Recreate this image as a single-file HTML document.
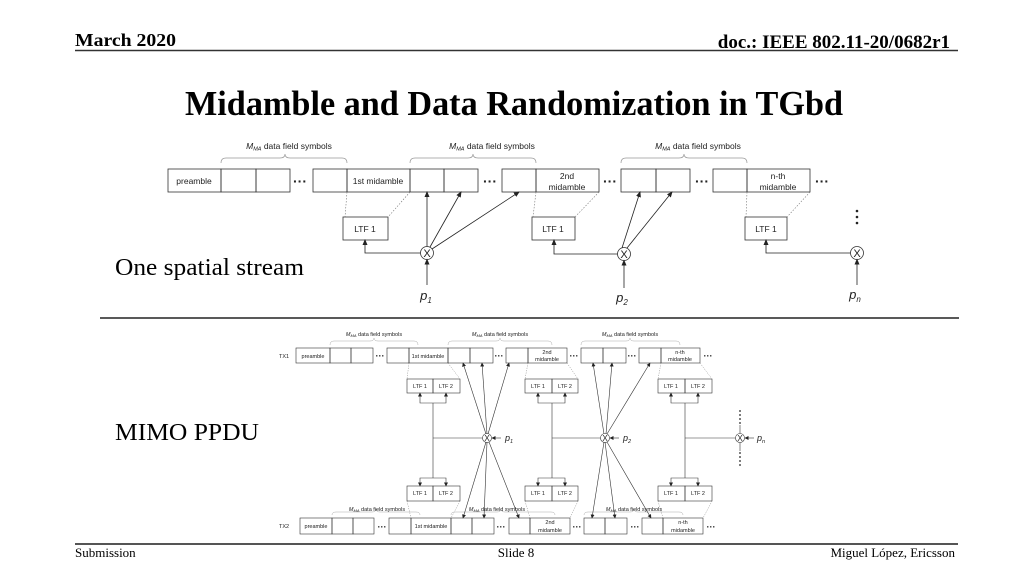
<!DOCTYPE html>
<html><head><meta charset="utf-8"><style>
html,body{margin:0;padding:0;background:#fff;}
svg{display:block;}
.s{font-family:"Liberation Serif",serif;}
.d{font-family:"Liberation Sans",sans-serif;fill:#222;}
</style></head><body>
<svg width="1024" height="576" viewBox="0 0 1024 576" xmlns="http://www.w3.org/2000/svg">
<defs>
<marker id="a" markerWidth="6" markerHeight="6" refX="5" refY="3" orient="auto" markerUnits="userSpaceOnUse"><path d="M0,0.5 L6,3 L0,5.5z" fill="#222"/></marker>
<marker id="b" markerWidth="4" markerHeight="4" refX="3.5" refY="2" orient="auto" markerUnits="userSpaceOnUse"><path d="M0,0 L4,2 L0,4z" fill="#222"/></marker>
</defs>
<!-- header -->
<text x="75" y="46" class="s" font-size="18" font-weight="bold" textLength="101" lengthAdjust="spacingAndGlyphs">March 2020</text>
<text x="950" y="48" class="s" font-size="19" font-weight="bold" text-anchor="end">doc.: IEEE 802.11-20/0682r1</text>
<line x1="75" y1="50.5" x2="958" y2="50.5" stroke="#333" stroke-width="1.5"/>
<text x="185" y="115" class="s" font-size="35" font-weight="bold" textLength="658" lengthAdjust="spacingAndGlyphs">Midamble and Data Randomization in TGbd</text>
<text x="115" y="275" class="s" font-size="24" textLength="189" lengthAdjust="spacingAndGlyphs">One spatial stream</text>
<text x="115" y="440" class="s" font-size="24" textLength="144" lengthAdjust="spacingAndGlyphs">MIMO PPDU</text>
<line x1="100" y1="318" x2="959" y2="318" stroke="#222" stroke-width="1.5"/>
<line x1="75" y1="544" x2="958" y2="544" stroke="#555" stroke-width="2"/>
<text x="75" y="557" class="s" font-size="13">Submission</text>
<text x="516" y="557" class="s" font-size="13" text-anchor="middle">Slide 8</text>
<text x="955" y="557" class="s" font-size="13" text-anchor="end">Miguel López, Ericsson</text>

<!-- TOP DIAGRAM -->
<g fill="none" stroke="#333" stroke-width="0.8">
<rect x="168" y="169" width="53" height="23"/><rect x="221" y="169" width="35" height="23"/><rect x="256" y="169" width="34" height="23"/>
<rect x="313" y="169" width="34" height="23"/><rect x="347" y="169" width="63" height="23"/><rect x="410" y="169" width="34" height="23"/><rect x="444" y="169" width="34" height="23"/>
<rect x="502" y="169" width="34" height="23"/><rect x="536" y="169" width="63" height="23"/>
<rect x="621" y="169" width="35" height="23"/><rect x="656" y="169" width="34" height="23"/>
<rect x="713" y="169" width="34" height="23"/><rect x="747" y="169" width="63" height="23"/>
<rect x="343" y="217" width="45" height="23"/><rect x="532" y="217" width="43" height="23"/><rect x="745" y="217" width="42" height="23"/>
<circle cx="427" cy="253" r="6.5"/><circle cx="624" cy="254" r="6.5"/><circle cx="857" cy="253" r="6.5"/>
</g>
<g stroke="#777" stroke-width="0.6" stroke-dasharray="1.5,1.5" fill="none">
<line x1="347" y1="192" x2="345" y2="217"/><line x1="410" y1="192" x2="388" y2="217"/>
<line x1="536" y1="192" x2="533" y2="217"/><line x1="599" y1="192" x2="575" y2="217"/>
<line x1="747" y1="192" x2="746" y2="217"/><line x1="810" y1="192" x2="787" y2="217"/>
</g>
<g stroke="#999" stroke-width="0.7" fill="none">
<path d="M221,163 Q221,158 226,158 L280,158 Q285,158 285,154 Q285,158 290,158 L342,158 Q347,158 347,163"/>
<path d="M410,163 Q410,158 415,158 L468,158 Q473,158 473,154 Q473,158 478,158 L531,158 Q536,158 536,163"/>
<path d="M621,163 Q621,158 626,158 L679,158 Q684,158 684,154 Q684,158 689,158 L742,158 Q747,158 747,163"/>
</g>
<g class="d" font-size="8.5" text-anchor="middle">
<text x="289" y="149"><tspan font-style="italic">M</tspan><tspan font-style="italic" font-size="5.5" dy="1.5">MA</tspan><tspan dy="-1.5"> data field symbols</tspan></text>
<text x="492" y="149"><tspan font-style="italic">M</tspan><tspan font-style="italic" font-size="5.5" dy="1.5">MA</tspan><tspan dy="-1.5"> data field symbols</tspan></text>
<text x="698" y="149"><tspan font-style="italic">M</tspan><tspan font-style="italic" font-size="5.5" dy="1.5">MA</tspan><tspan dy="-1.5"> data field symbols</tspan></text>
<text x="194" y="184">preamble</text>
<text x="378" y="184">1st midamble</text>
<text x="567" y="179">2nd</text><text x="567" y="190">midamble</text>
<text x="778" y="179">n-th</text><text x="778" y="190">midamble</text>
<text x="365" y="232">LTF 1</text><text x="553" y="232">LTF 1</text><text x="766" y="232">LTF 1</text>
<text x="427" y="257" font-size="11">X</text><text x="624" y="258" font-size="11">X</text><text x="857" y="257" font-size="11">X</text>
</g>
<g class="d" font-size="14" font-weight="bold" text-anchor="middle">
<text x="300" y="186">···</text><text x="490" y="186">···</text><text x="610" y="186">···</text><text x="702" y="186">···</text><text x="822" y="186">···</text>
</g>
<g fill="#222"><circle cx="857" cy="211" r="1.3"/><circle cx="857" cy="217" r="1.3"/><circle cx="857" cy="223" r="1.3"/></g>
<g stroke="#222" stroke-width="0.8" fill="none" marker-end="url(#a)">
<polyline points="420.5,253 365,253 365,240"/>
<line x1="427" y1="246.5" x2="427" y2="192"/>
<line x1="430" y1="247" x2="461" y2="192"/>
<line x1="432" y1="249" x2="519" y2="192"/>
<line x1="427" y1="285" x2="427" y2="259.5"/>
<polyline points="617.5,254 554,254 554,240"/>
<line x1="622" y1="248" x2="640" y2="192"/>
<line x1="627" y1="248" x2="672" y2="192"/>
<line x1="624" y1="288" x2="624" y2="260.5"/>
<polyline points="850.5,253 766,253 766,240"/>
<line x1="857" y1="285" x2="857" y2="259.5"/>
</g>
<g class="d" font-size="13" font-style="italic" text-anchor="middle">
<text x="426" y="300">p<tspan font-size="8" dy="3">1</tspan></text>
<text x="622" y="302">p<tspan font-size="8" dy="3">2</tspan></text>
<text x="855" y="299">p<tspan font-size="8" dy="3">n</tspan></text>
</g>

<!-- BOTTOM DIAGRAM -->
<g fill="none" stroke="#333" stroke-width="0.6">
<rect x="296" y="348" width="34" height="15"/><rect x="330" y="348" width="21" height="15"/><rect x="351" y="348" width="22" height="15"/>
<rect x="387" y="348" width="22" height="15"/><rect x="409" y="348" width="39" height="15"/><rect x="448" y="348" width="22" height="15"/><rect x="470" y="348" width="23" height="15"/>
<rect x="506" y="348" width="22" height="15"/><rect x="528" y="348" width="39" height="15"/>
<rect x="581" y="348" width="22" height="15"/><rect x="603" y="348" width="23" height="15"/>
<rect x="639" y="348" width="22" height="15"/><rect x="661" y="348" width="39" height="15"/>
<rect x="300" y="518" width="32" height="16"/><rect x="332" y="518" width="21" height="16"/><rect x="353" y="518" width="21" height="16"/>
<rect x="389" y="518" width="22" height="16"/><rect x="411" y="518" width="40" height="16"/><rect x="451" y="518" width="21" height="16"/><rect x="472" y="518" width="22" height="16"/>
<rect x="509" y="518" width="21" height="16"/><rect x="530" y="518" width="40" height="16"/>
<rect x="584" y="518" width="21" height="16"/><rect x="605" y="518" width="22" height="16"/>
<rect x="642" y="518" width="21" height="16"/><rect x="663" y="518" width="40" height="16"/>
<rect x="407" y="379" width="26" height="14"/><rect x="433" y="379" width="27" height="14"/>
<rect x="525" y="379" width="27" height="14"/><rect x="552" y="379" width="26" height="14"/>
<rect x="658" y="379" width="27" height="14"/><rect x="685" y="379" width="27" height="14"/>
<rect x="407" y="486" width="26" height="15"/><rect x="433" y="486" width="27" height="15"/>
<rect x="525" y="486" width="27" height="15"/><rect x="552" y="486" width="26" height="15"/>
<rect x="658" y="486" width="27" height="15"/><rect x="685" y="486" width="27" height="15"/>
<circle cx="487" cy="438" r="4.5"/><circle cx="605" cy="438" r="4.5"/><circle cx="740" cy="438" r="4.5"/>
</g>
<g stroke="#888" stroke-width="0.5" stroke-dasharray="1.2,1.2" fill="none">
<line x1="409" y1="363" x2="407" y2="379"/><line x1="448" y1="363" x2="460" y2="379"/>
<line x1="528" y1="363" x2="525" y2="379"/><line x1="567" y1="363" x2="578" y2="379"/>
<line x1="661" y1="363" x2="658" y2="379"/><line x1="700" y1="363" x2="712" y2="379"/>
<line x1="407" y1="501" x2="411" y2="518"/><line x1="460" y1="501" x2="451" y2="518"/>
<line x1="525" y1="501" x2="530" y2="518"/><line x1="578" y1="501" x2="570" y2="518"/>
<line x1="658" y1="501" x2="663" y2="518"/><line x1="712" y1="501" x2="703" y2="518"/>
</g>
<g stroke="#aaa" stroke-width="0.5" fill="none">
<path d="M330,345 Q330,341 334,341 L370,341 Q374,341 374,338 Q374,341 378,341 L414,341 Q418,341 418,345"/>
<path d="M448,345 Q448,341 452,341 L496,341 Q500,341 500,338 Q500,341 504,341 L548,341 Q552,341 552,345"/>
<path d="M581,345 Q581,341 585,341 L626,341 Q630,341 630,338 Q630,341 634,341 L676,341 Q680,341 680,345"/>
<path d="M332,515 Q332,512 336,512 L372,512 Q376,512 376,509 Q376,512 380,512 L416,512 Q420,512 420,515"/>
<path d="M451,515 Q451,512 455,512 L497,512 Q501,512 501,509 Q501,512 505,512 L551,512 Q555,512 555,515"/>
<path d="M584,515 Q584,512 588,512 L630,512 Q634,512 634,509 Q634,512 638,512 L679,512 Q683,512 683,515"/>
</g>
<g class="d" font-size="5.5" text-anchor="middle">
<text x="374" y="336"><tspan font-style="italic">M</tspan><tspan font-style="italic" font-size="4" dy="1">MA</tspan><tspan dy="-1"> data field symbols</tspan></text>
<text x="500" y="336"><tspan font-style="italic">M</tspan><tspan font-style="italic" font-size="4" dy="1">MA</tspan><tspan dy="-1"> data field symbols</tspan></text>
<text x="630" y="336"><tspan font-style="italic">M</tspan><tspan font-style="italic" font-size="4" dy="1">MA</tspan><tspan dy="-1"> data field symbols</tspan></text>
<text x="377" y="511"><tspan font-style="italic">M</tspan><tspan font-style="italic" font-size="4" dy="1">MA</tspan><tspan dy="-1"> data field symbols</tspan></text>
<text x="497" y="511"><tspan font-style="italic">M</tspan><tspan font-style="italic" font-size="4" dy="1">MA</tspan><tspan dy="-1"> data field symbols</tspan></text>
<text x="634" y="511"><tspan font-style="italic">M</tspan><tspan font-style="italic" font-size="4" dy="1">MA</tspan><tspan dy="-1"> data field symbols</tspan></text>
<text x="284" y="358">TX1</text><text x="284" y="528">TX2</text>
<text x="313" y="358">preamble</text><text x="428" y="358">1st midamble</text>
<text x="547" y="354">2nd</text><text x="547" y="361">midamble</text>
<text x="680" y="354">n-th</text><text x="680" y="361">midamble</text>
<text x="316" y="528">preamble</text><text x="431" y="528">1st midamble</text>
<text x="550" y="524">2nd</text><text x="550" y="532">midamble</text>
<text x="683" y="524">n-th</text><text x="683" y="532">midamble</text>
<text x="420" y="388">LTF 1</text><text x="446" y="388">LTF 2</text>
<text x="538" y="388">LTF 1</text><text x="565" y="388">LTF 2</text>
<text x="671" y="388">LTF 1</text><text x="698" y="388">LTF 2</text>
<text x="420" y="495">LTF 1</text><text x="446" y="495">LTF 2</text>
<text x="538" y="495">LTF 1</text><text x="565" y="495">LTF 2</text>
<text x="671" y="495">LTF 1</text><text x="698" y="495">LTF 2</text>
<text x="487" y="441" font-size="8">X</text><text x="605" y="441" font-size="8">X</text><text x="740" y="441" font-size="8">X</text>
</g>
<g class="d" font-size="9" font-weight="bold" text-anchor="middle">
<text x="380" y="359">···</text><text x="499" y="359">···</text><text x="574" y="359">···</text><text x="632" y="359">···</text><text x="708" y="359">···</text>
<text x="382" y="530">···</text><text x="501" y="530">···</text><text x="577" y="530">···</text><text x="635" y="530">···</text><text x="711" y="530">···</text>
</g>
<g fill="#222">
<circle cx="740" cy="411" r="0.9"/><circle cx="740" cy="415" r="0.9"/><circle cx="740" cy="419" r="0.9"/><circle cx="740" cy="423" r="0.9"/>
<circle cx="740" cy="453" r="0.9"/><circle cx="740" cy="457" r="0.9"/><circle cx="740" cy="461" r="0.9"/><circle cx="740" cy="465" r="0.9"/>
</g>
<g stroke="#333" stroke-width="0.6" fill="none">
<line x1="433" y1="403" x2="433" y2="478"/><line x1="433" y1="438" x2="482.5" y2="438"/>
<line x1="552" y1="403" x2="552" y2="478"/><line x1="552" y1="438" x2="600.5" y2="438"/>
<line x1="685" y1="403" x2="685" y2="478"/><line x1="685" y1="438" x2="735.5" y2="438"/>
<line x1="740" y1="425" x2="740" y2="433.5"/><line x1="740" y1="442.5" x2="740" y2="451"/>
</g>
<g stroke="#333" stroke-width="0.6" fill="none" marker-end="url(#b)">
<polyline points="433,403 420,403 420,393"/><polyline points="433,403 446,403 446,393"/>
<polyline points="433,478 420,478 420,486"/><polyline points="433,478 446,478 446,486"/>
<polyline points="552,403 538,403 538,393"/><polyline points="552,403 565,403 565,393"/>
<polyline points="552,478 538,478 538,486"/><polyline points="552,478 565,478 565,486"/>
<polyline points="685,403 671,403 671,393"/><polyline points="685,403 698,403 698,393"/>
<polyline points="685,478 671,478 671,486"/><polyline points="685,478 698,478 698,486"/>
<line x1="486" y1="434" x2="463" y2="363"/><line x1="487" y1="434" x2="482" y2="363"/><line x1="488" y1="434" x2="509" y2="363"/>
<line x1="486" y1="442" x2="463" y2="518"/><line x1="487" y1="442" x2="484" y2="518"/><line x1="489" y1="442" x2="519" y2="518"/>
<line x1="604" y1="434" x2="593" y2="363"/><line x1="606" y1="434" x2="612" y2="363"/><line x1="607" y1="434" x2="650" y2="363"/>
<line x1="604" y1="442" x2="592" y2="518"/><line x1="605" y1="442" x2="615" y2="518"/><line x1="607" y1="442" x2="651" y2="518"/>
<line x1="501" y1="438" x2="492" y2="438"/><line x1="619" y1="438" x2="610" y2="438"/><line x1="754" y1="438" x2="745" y2="438"/>
</g>
<g class="d" font-size="9" font-style="italic">
<text x="505" y="441">p<tspan font-size="5.5" dy="2">1</tspan></text>
<text x="623" y="441">p<tspan font-size="5.5" dy="2">2</tspan></text>
<text x="757" y="441">p<tspan font-size="5.5" dy="2">n</tspan></text>
</g>
</svg>
</body></html>
